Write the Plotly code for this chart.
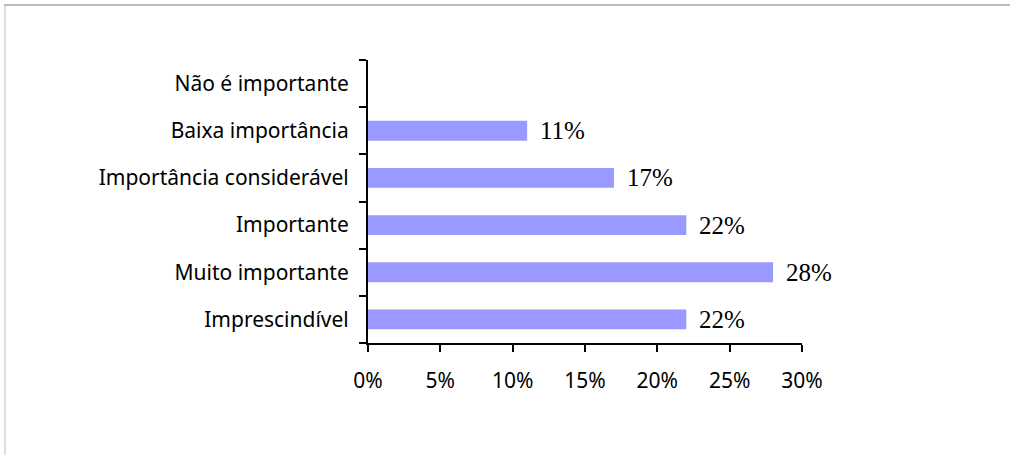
import plotly.graph_objects as go

# Categories from bottom to top, with share of responses (%)
categorias = [
    "Imprescindível",
    "Muito importante",
    "Importante",
    "Importância considerável",
    "Baixa importância",
    "Não é importante",
]
percentuais = [22, 28, 22, 17, 11, 0]
ticks_x = [0, 5, 10, 15, 20, 25, 30]
ticks_x_texto = ["0%", "5%", "10%", "15%", "20%", "25%", "30%"]

SANS = "Noto Sans"
SERIF = "Liberation Serif"

fig = go.Figure(
    go.Bar(
        x=percentuais,
        y=categorias,
        orientation="h",
        marker=dict(color="#9999FF", line=dict(width=0)),
        width=0.42,
        hoverinfo="skip",
    )
)

# Value labels next to each bar (none for zero)
for cat, v in zip(categorias, percentuais):
    if v > 0:
        fig.add_annotation(
            x=v, y=cat, xref="x", yref="y",
            text=f"{v}%", showarrow=False,
            xanchor="left", yanchor="middle", xshift=11,
            font=dict(family=SERIF, size=25, color="black"),
        )

# Thin grey frame on the top and left edges
W, H = 1010, 455
L, R, T, B = 368, 208, 60, 112
pw, ph = W - L - R, H - T - B

def px_x(x):
    return (x - L) / pw

def px_y(y):
    return (H - B - y) / ph

fig.add_shape(type="line", xref="paper", yref="paper",
              x0=px_x(4), x1=px_x(1012), y0=px_y(5), y1=px_y(5),
              line=dict(color="#BEBEBE", width=2))
fig.add_shape(type="line", xref="paper", yref="paper",
              x0=px_x(5), x1=px_x(5), y0=px_y(4), y1=px_y(460),
              line=dict(color="#BEBEBE", width=1))

fig.update_layout(
    width=W, height=H,
    margin=dict(l=L, r=R, t=T, b=B),
    paper_bgcolor="white", plot_bgcolor="white",
    showlegend=False,
    bargap=0.58,
    xaxis=dict(
        range=[0, 30], tickvals=ticks_x, ticktext=ticks_x_texto,
        showgrid=False, zeroline=False,
        showline=True, linecolor="black", linewidth=2,
        ticks="outside", ticklen=7, tickwidth=2, tickcolor="black",
        ticklabelstandoff=11,
        tickfont=dict(family=SANS, size=21, color="black"),
    ),
    yaxis=dict(
        categoryorder="array", categoryarray=categorias,
        showgrid=False, zeroline=False,
        showline=True, linecolor="black", linewidth=2,
        ticks="outside", ticklen=7, tickwidth=2, tickcolor="black",
        tickson="boundaries", ticklabelstandoff=13,
        tickfont=dict(family=SANS, size=21, color="black"),
    ),
)

fig.write_html("out.html")
